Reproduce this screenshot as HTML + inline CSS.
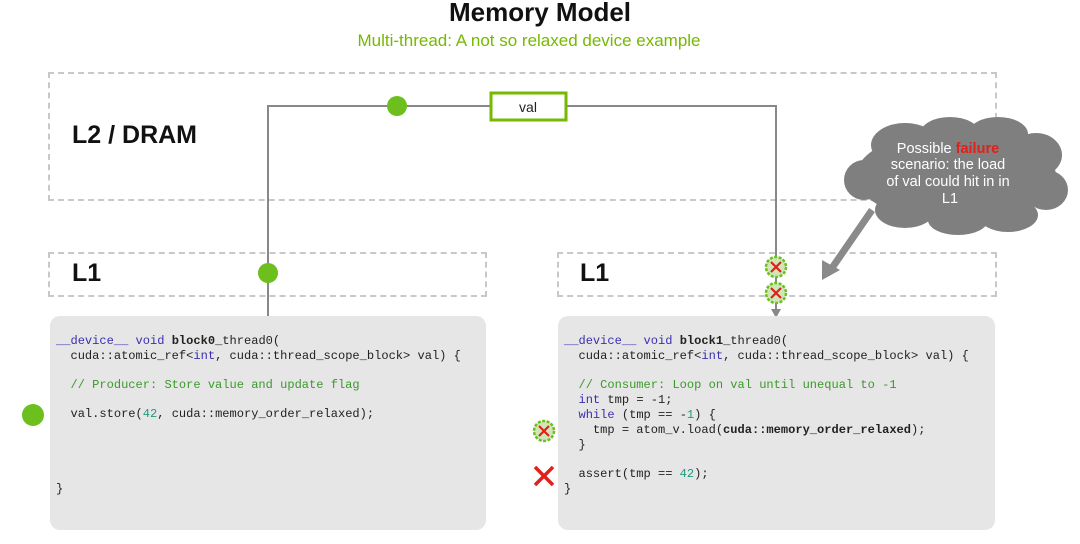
<!DOCTYPE html>
<html><head><style>
body{margin:0;width:1080px;height:544px;background:#fff;position:relative;overflow:hidden;font-family:"Liberation Sans",sans-serif}
.abs{position:absolute}
.dash{position:absolute;border:2px dashed #c8c8c8;box-sizing:border-box}
.code{position:absolute;background:#e6e6e6;border-radius:10px;font-family:"Liberation Mono",monospace;font-size:12.05px;color:#222}
.code div{position:absolute;white-space:pre;line-height:14px}
.k{color:#3b2fb0}.c{color:#3a9a2a}.n{color:#1f9a7a}
</style></head><body>
<div class="abs" style="left:0;width:1080px;top:-3px;text-align:center;font-weight:bold;font-size:26px;color:#111">Memory Model</div>
<div class="abs" style="left:0;width:1058px;top:31px;text-align:center;font-size:17px;color:#76b900">Multi-thread: A not so relaxed device example</div>

<div class="dash" style="left:48px;top:72px;width:949px;height:129px"></div>
<div class="abs" style="left:72px;top:121px;font-weight:bold;font-size:25px;color:#111">L2 / DRAM</div>
<div class="dash" style="left:48px;top:252px;width:439px;height:45px"></div>
<div class="abs" style="left:72px;top:259px;font-weight:bold;font-size:25px;color:#111">L1</div>
<div class="dash" style="left:557px;top:252px;width:440px;height:45px"></div>
<div class="abs" style="left:580px;top:259px;font-weight:bold;font-size:25px;color:#111">L1</div>

<svg class="abs" style="left:0;top:0" width="1080" height="544">
<polyline points="268,318 268,106 490,106" fill="none" stroke="#888" stroke-width="2"/>
<polyline points="566,106 776,106 776,310" fill="none" stroke="#888" stroke-width="2"/>
<polygon points="771,309 781,309 776,318" fill="#888"/>
<rect x="491" y="93" width="75" height="27" fill="#fff" stroke="#76b900" stroke-width="3"/>
<text x="528" y="112" text-anchor="middle" font-size="14" font-family="Liberation Sans" fill="#222">val</text>
<circle cx="397" cy="106" r="10" fill="#6cbf1c"/>
<circle cx="268" cy="273" r="10" fill="#6cbf1c"/>
<circle cx="33" cy="415" r="11" fill="#6cbf1c"/>
<circle cx="776" cy="267" r="10" fill="#cfe6b8" stroke="#6cbf1c" stroke-width="2.5" stroke-dasharray="3 1.5"/><path d="M771,262 L781,272 M781,262 L771,272" stroke="#e0201a" stroke-width="2.2"/>
<circle cx="776" cy="293" r="10" fill="#cfe6b8" stroke="#6cbf1c" stroke-width="2.5" stroke-dasharray="3 1.5"/><path d="M771,288 L781,298 M781,288 L771,298" stroke="#e0201a" stroke-width="2.2"/>
<circle cx="544" cy="431" r="10" fill="#cfe6b8" stroke="#6cbf1c" stroke-width="2.5" stroke-dasharray="3 1.5"/><path d="M539,426 L549,436 M549,426 L539,436" stroke="#e0201a" stroke-width="2.2"/>
<path d="M535,467 L553,485 M553,467 L535,485" stroke="#e0201a" stroke-width="3.5"/>
<!-- cloud -->
<g fill="#7f7f7f">
<ellipse cx="956" cy="176" rx="100" ry="46"/>
<ellipse cx="905" cy="145" rx="34" ry="22"/><ellipse cx="950" cy="134" rx="30" ry="17"/><ellipse cx="998" cy="134" rx="30" ry="17"/><ellipse cx="1036" cy="155" rx="26" ry="22"/>
<ellipse cx="1046" cy="190" rx="22" ry="20"/><ellipse cx="1008" cy="215" rx="30" ry="17"/><ellipse cx="958" cy="220" rx="30" ry="15"/><ellipse cx="905" cy="210" rx="30" ry="18"/><ellipse cx="864" cy="180" rx="20" ry="20"/>
</g>
<line x1="872" y1="210" x2="832" y2="268" stroke="#8a8a8a" stroke-width="7"/>
<polygon points="822,280 822,260 840,270" fill="#8a8a8a"/>
<text font-family="Liberation Sans" font-size="14.5" fill="#fff" text-anchor="middle">
<tspan x="950" y="153">Possible <tspan fill="#e0201a" font-weight="bold">failure</tspan></tspan>
<tspan x="950" y="169">scenario: the load</tspan>
<tspan x="950" y="186">of val could hit in in</tspan>
<tspan x="950" y="203">L1</tspan>
</text>
</svg>

<div class="code" style="left:50px;top:316px;width:436px;height:214px">
<div style="left:6px;top:18px"><span class="k">__device__ void</span> <b>block0</b>_thread0(</div>
<div style="left:6px;top:33px">  cuda::atomic_ref&lt;<span class="k">int</span>, cuda::thread_scope_block&gt; val) {</div>
<div style="left:6px;top:62px" class="c">  // Producer: Store value and update flag</div>
<div style="left:6px;top:91px">  val.store(<span class="n">42</span>, cuda::memory_order_relaxed);</div>
<div style="left:6px;top:166px">}</div>
</div>
<div class="code" style="left:558px;top:316px;width:437px;height:214px">
<div style="left:6px;top:18px"><span class="k">__device__ void</span> <b>block1</b>_thread0(</div>
<div style="left:6px;top:33px">  cuda::atomic_ref&lt;<span class="k">int</span>, cuda::thread_scope_block&gt; val) {</div>
<div style="left:6px;top:62px" class="c">  // Consumer: Loop on val until unequal to -1</div>
<div style="left:6px;top:77px">  <span class="k">int</span> tmp = -1;</div>
<div style="left:6px;top:92px">  <span class="k">while</span> (tmp == -<span class="n">1</span>) {</div>
<div style="left:6px;top:107px">    tmp = atom_v.load(<b>cuda::memory_order_relaxed</b>);</div>
<div style="left:6px;top:122px">  }</div>
<div style="left:6px;top:151px">  assert(tmp == <span class="n">42</span>);</div>
<div style="left:6px;top:166px">}</div>
</div>
</body></html>
